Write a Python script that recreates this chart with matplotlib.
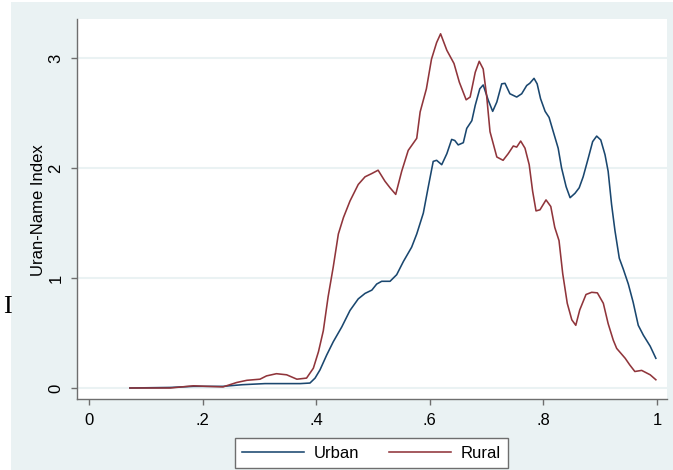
import matplotlib
matplotlib.use("Agg")
import matplotlib.pyplot as plt
from matplotlib.patches import Rectangle

# Index values by share (x) for the two groups
urban_x = [0.072, 0.143, 0.184, 0.236, 0.270, 0.310, 0.350, 0.372, 0.389, 0.398,
           0.4067, 0.4185, 0.430, 0.445, 0.4595, 0.474, 0.486, 0.498, 0.5065, 0.5153,
           0.530, 0.5417, 0.5535, 0.568, 0.577, 0.5886, 0.597, 0.606, 0.612, 0.621,
           0.630, 0.6385, 0.644, 0.650, 0.659, 0.665, 0.674, 0.680, 0.688, 0.694,
           0.703, 0.7107, 0.718, 0.7266, 0.7324, 0.741, 0.753, 0.7618, 0.7706, 0.776,
           0.7835, 0.789, 0.795, 0.803, 0.810, 0.8174, 0.826, 0.832, 0.840, 0.847,
           0.8556, 0.863, 0.870, 0.879, 0.8867, 0.8938, 0.901, 0.9085, 0.914, 0.920,
           0.926, 0.9336, 0.9407, 0.9495, 0.958, 0.967, 0.976, 0.988, 0.998]
urban_y = [0.00, 0.005, 0.015, 0.015, 0.03, 0.04, 0.04, 0.04, 0.045, 0.09,
           0.165, 0.30, 0.42, 0.555, 0.705, 0.81, 0.86, 0.89, 0.945, 0.97,
           0.97, 1.03, 1.15, 1.28, 1.40, 1.59, 1.82, 2.06, 2.07, 2.03,
           2.13, 2.26, 2.25, 2.21, 2.23, 2.36, 2.43, 2.57, 2.72, 2.755,
           2.615, 2.515, 2.60, 2.765, 2.77, 2.675, 2.645, 2.675, 2.75, 2.77,
           2.815, 2.765, 2.63, 2.515, 2.46, 2.33, 2.18, 2.00, 1.83, 1.73,
           1.77, 1.82, 1.92, 2.09, 2.24, 2.29, 2.255, 2.12, 1.97, 1.67,
           1.43, 1.18, 1.08, 0.945, 0.78, 0.57, 0.48, 0.38, 0.27]

rural_x = [0.072, 0.143, 0.184, 0.207, 0.236, 0.260, 0.278, 0.301, 0.3125, 0.330,
           0.348, 0.366, 0.383, 0.395, 0.404, 0.4125, 0.421, 0.430, 0.439, 0.448,
           0.4595, 0.474, 0.486, 0.498, 0.509, 0.521, 0.530, 0.540, 0.5505, 0.562,
           0.577, 0.583, 0.594, 0.603, 0.612, 0.619, 0.630, 0.6426, 0.652, 0.664,
           0.671, 0.680, 0.687, 0.694, 0.700, 0.706, 0.718, 0.729, 0.738, 0.747,
           0.753, 0.760, 0.7676, 0.775, 0.781, 0.787, 0.794, 0.8046, 0.813, 0.820,
           0.8275, 0.834, 0.842, 0.850, 0.857, 0.864, 0.875, 0.885, 0.895, 0.9055,
           0.914, 0.923, 0.929, 0.944, 0.952, 0.961, 0.973, 0.988, 0.998]
rural_y = [0.00, 0.00, 0.02, 0.015, 0.01, 0.05, 0.07, 0.08, 0.11, 0.13,
           0.12, 0.08, 0.09, 0.18, 0.33, 0.52, 0.83, 1.10, 1.40, 1.55,
           1.70, 1.85, 1.92, 1.95, 1.98, 1.88, 1.82, 1.76, 1.97, 2.16,
           2.27, 2.51, 2.72, 2.99, 3.14, 3.22, 3.07, 2.95, 2.78, 2.62,
           2.645, 2.87, 2.97, 2.90, 2.66, 2.33, 2.10, 2.07, 2.13, 2.20,
           2.19, 2.245, 2.18, 2.03, 1.79, 1.61, 1.62, 1.71, 1.65, 1.46,
           1.34, 1.04, 0.77, 0.62, 0.57, 0.71, 0.85, 0.87, 0.865, 0.77,
           0.585, 0.435, 0.36, 0.27, 0.21, 0.15, 0.16, 0.12, 0.075]

x_ticks = [0, 0.2, 0.4, 0.6, 0.8, 1]
x_tick_labels = ["0", ".2", ".4", ".6", ".8", "1"]
y_ticks = [0, 1, 2, 3]
y_tick_labels = ["0", "1", "2", "3"]

NAVY = "#1A476F"
MAROON = "#90353B"
PANEL = "#EAF2F3"
AXIS = "#6E6E6E"

plt.rcParams["font.family"] = ["Liberation Sans", "DejaVu Sans"]

fig = plt.figure(figsize=(6.73, 4.70), dpi=100, facecolor="white")
W, H = 673.0, 470.0

# light graph region behind the plot
fig.patches.append(Rectangle((11 / W, 0), 1 - 11 / W, (H - 2) / H,
                             transform=fig.transFigure, facecolor=PANEL,
                             edgecolor="none", zorder=-10))

ax = fig.add_axes([77 / W, (H - 399) / H, (667 - 77) / W, (399 - 19) / H])
ax.set_zorder(1)
ax.set_facecolor("white")

ax.plot(urban_x, urban_y, color=NAVY, lw=1.15, label="Urban", zorder=3)
ax.plot(rural_x, rural_y, color=MAROON, lw=1.15, label="Rural", zorder=4)

ax.set_xlim((77 - 89) / 568, (667 - 89) / 568)
ax.set_ylim(-0.1, 369 / 110)

ax.set_xticks(x_ticks)
ax.set_xticklabels(x_tick_labels)
ax.set_yticks(y_ticks)
ax.set_yticklabels(y_tick_labels, rotation=90, va="center")

ax.grid(axis="y", color=PANEL, lw=1.5, zorder=1)
ax.set_axisbelow(True)

for side in ("top", "right"):
    ax.spines[side].set_visible(False)
for side in ("left", "bottom"):
    ax.spines[side].set_color(AXIS)
    ax.spines[side].set_linewidth(1.0)

ax.tick_params(axis="both", colors=AXIS, labelcolor="black", length=4.3,
               width=1.0, pad=5.5, labelsize=12)

ax.set_ylabel("Uran-Name Index", fontsize=12)
ax.yaxis.label.set(ha="center", va="center", rotation_mode="anchor")
ax.yaxis.set_label_coords((39 - 77) / 590, (399 - 210) / 380)

leg = fig.legend(loc="center", bbox_to_anchor=(371.5 / W, 1 - 453 / H),
                 ncol=2, fontsize=12, frameon=True, fancybox=False,
                 handlelength=3.7, handletextpad=0.6, columnspacing=1.8,
                 borderpad=0.45, borderaxespad=0)
leg.set_zorder(5)
leg.get_frame().set_edgecolor(AXIS)
leg.get_frame().set_linewidth(1.0)
leg.get_frame().set_facecolor("white")
leg.get_frame().set_alpha(1.0)

fig.text(7 / W, 1 - 307 / H, "I", family=["Liberation Serif", "DejaVu Serif"],
         fontsize=19, ha="center", va="center")

fig.savefig("out.png", dpi=100, facecolor="white")
